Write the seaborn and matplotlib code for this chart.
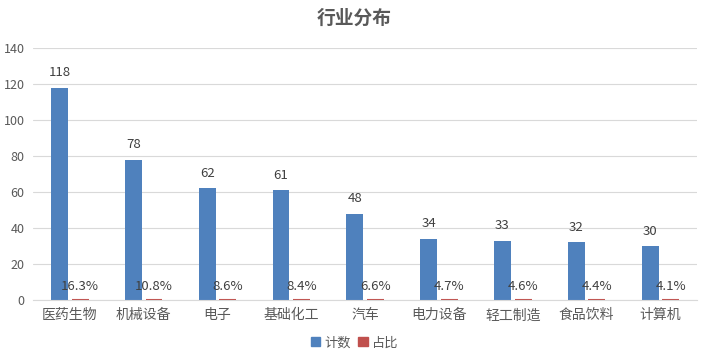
import pandas as pd
import matplotlib
matplotlib.use('Agg')
import matplotlib.pyplot as plt
import matplotlib.patches as mpatches
import seaborn as sns

sns.set_style('white')
plt.rcParams['font.family'] = ['Noto Sans CJK SC', 'DejaVu Sans']

BLUE = '#4F81BD'
RED = '#C0504D'
TEXT = '#595959'
GRID = '#D9D9D9'

industries = ['医药生物', '机械设备', '电子', '基础化工', '汽车',
              '电力设备', '轻工制造', '食品饮料', '计算机']
counts = [118, 78, 62, 61, 48, 34, 33, 32, 30]
shares = [16.3, 10.8, 8.6, 8.4, 6.6, 4.7, 4.6, 4.4, 4.1]   # percent

df = pd.concat([
    pd.DataFrame({'industry': industries, 'series': '计数', 'value': counts}),
    pd.DataFrame({'industry': industries, 'series': '占比',
                  'value': [s / 100 for s in shares]}),
], ignore_index=True)

fig = plt.figure(figsize=(7.09, 3.64), dpi=100)
ax = fig.add_axes([0.0465, 0.176, 0.937, 0.692])

sns.barplot(data=df, x='industry', y='value', hue='series',
            order=industries, hue_order=['计数', '占比'],
            palette=[BLUE, RED], width=0.56, gap=0.18,
            ax=ax, legend=False, saturation=1, linewidth=0)

# make the tiny share bars visible as a thin line
for bar in ax.containers[1]:
    bar.set_edgecolor(RED)
    bar.set_linewidth(1.5)

# value labels
for bar, v in zip(ax.containers[0], counts):
    ax.annotate(str(v), (bar.get_x() + bar.get_width() / 2, bar.get_height()),
                xytext=(0, 6), textcoords='offset points',
                ha='center', va='bottom', fontsize=9.5, color='#404040')
for bar, s in zip(ax.containers[1], shares):
    ax.annotate(f'{s}%', (bar.get_x() + bar.get_width() / 2, bar.get_height()),
                xytext=(0, 5), textcoords='offset points',
                ha='center', va='bottom', fontsize=9.5, color='#404040')

ax.set_ylim(0, 140)
ax.set_yticks(range(0, 141, 20))
ax.set_xlim(-0.5, len(industries) - 0.5)
ax.yaxis.grid(True, color=GRID, linewidth=0.8)
ax.set_axisbelow(True)
for side in ['top', 'right', 'left']:
    ax.spines[side].set_visible(False)
ax.spines['bottom'].set_color(GRID)
ax.tick_params(axis='both', length=0, labelsize=9, colors=TEXT)
ax.tick_params(axis='x', labelsize=10, pad=6)
ax.tick_params(axis='y', pad=6)
ax.set_xlabel('')
ax.set_ylabel('')

fig.text(0.5, 0.95, '行业分布', ha='center', va='center',
         fontsize=13.5, fontweight='bold', color=TEXT)

handles = [mpatches.Patch(color=BLUE, label='计数'),
           mpatches.Patch(color=RED, label='占比')]
fig.legend(handles=handles, loc='center', bbox_to_anchor=(0.5, 0.058),
           ncol=2, frameon=False, fontsize=9.5, handlelength=0.7,
           handleheight=0.7, handletextpad=0.3, columnspacing=0.6,
           labelcolor=TEXT)

fig.savefig('out.png', dpi=100)
